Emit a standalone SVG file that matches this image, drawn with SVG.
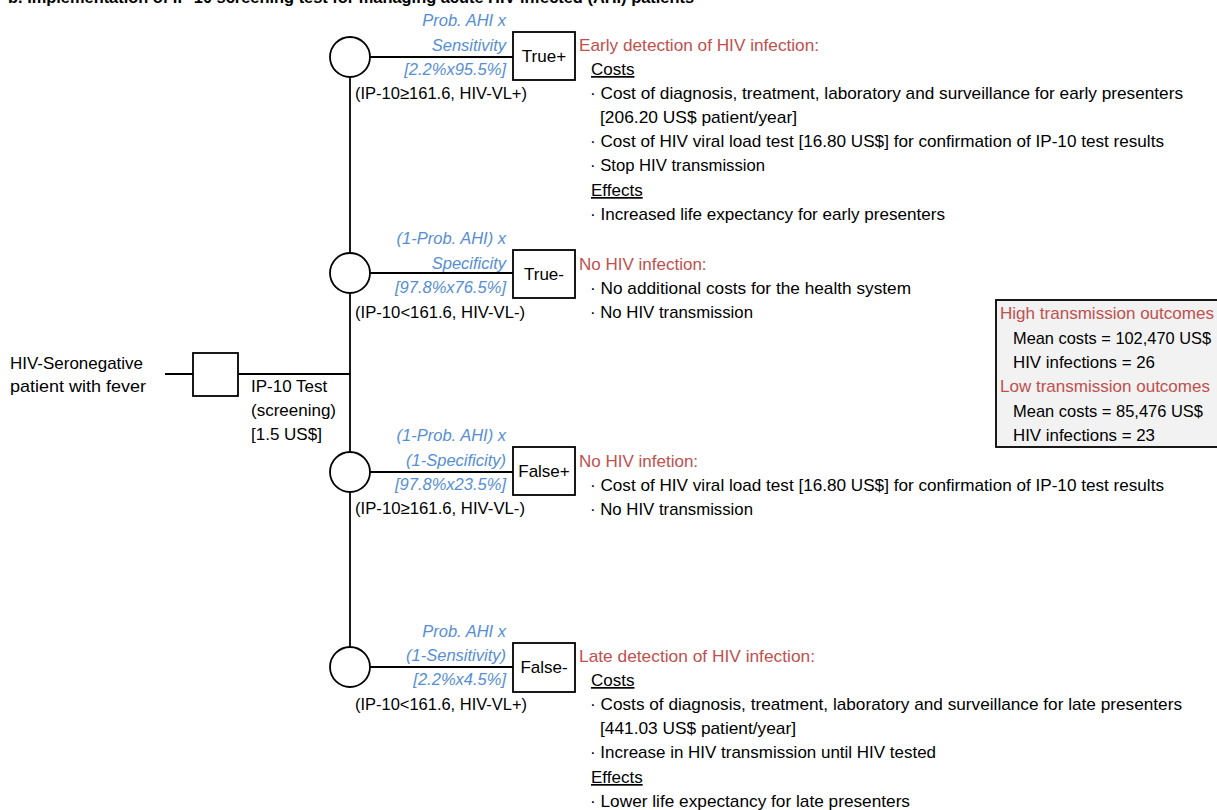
<svg xmlns="http://www.w3.org/2000/svg" width="1217" height="810" viewBox="0 0 1217 810">
<style>
text{font-family:"Liberation Sans",Arial,sans-serif;font-size:17px;fill:#000}
.b{fill:#558ed5;font-style:italic;text-anchor:end;font-size:16.5px}
.r{fill:#c0504d}
.u{text-decoration:underline}
.t{font-weight:bold;font-size:16px}
.ln{stroke:#000;stroke-width:1.8;fill:none}
.nd{stroke:#000;stroke-width:1.8;fill:#fff}
.bx{text-anchor:middle}
</style>
<rect width="1217" height="810" fill="#fff"/>
<text class="t" x="8" y="3" textLength="686" lengthAdjust="spacingAndGlyphs">b. Implementation of IP-10 screening test for managing acute HIV-infected (AHI) patients</text>

<g id="connectors">
<line class="ln" x1="165" y1="374" x2="350" y2="374"/>
<line class="ln" x1="350" y1="77" x2="350" y2="647"/>
<line class="ln" x1="370" y1="57" x2="513" y2="57"/>
<line class="ln" x1="370" y1="273" x2="513" y2="273"/>
<line class="ln" x1="370" y1="472" x2="513" y2="472"/>
<line class="ln" x1="370" y1="667" x2="513" y2="667"/>
</g>

<g id="start">
<text x="10" y="369" textLength="133" lengthAdjust="spacingAndGlyphs">HIV-Seronegative</text>
<text x="10" y="392" textLength="136" lengthAdjust="spacingAndGlyphs">patient with fever</text>
</g>

<g id="decision">
<rect class="nd" x="193" y="353" width="45" height="43"/>
<text x="251" y="392">IP-10 Test</text>
<text x="251" y="416">(screening)</text>
<text x="251" y="440">[1.5 US$]</text>
</g>

<g id="chance1">
<circle class="nd" cx="350" cy="57" r="20"/>
<text class="b" x="506" y="26">Prob. AHI x</text>
<text class="b" x="506" y="51">Sensitivity</text>
<text class="b" x="506" y="75">[2.2%x95.5%]</text>
<text x="355" y="99" textLength="172" lengthAdjust="spacingAndGlyphs">(IP-10≥161.6, HIV-VL+)</text>
</g>
<g id="truepos">
<rect class="nd" x="513" y="32" width="62" height="48"/>
<text class="bx" x="544" y="62">True+</text>
<text class="r" x="579" y="51" textLength="240" lengthAdjust="spacingAndGlyphs">Early detection of HIV infection:</text>
<text class="u" x="591" y="75">Costs</text>
<text x="590" y="99" textLength="593" lengthAdjust="spacingAndGlyphs">· Cost of diagnosis, treatment, laboratory and surveillance for early presenters</text>
<text x="600" y="123" textLength="197" lengthAdjust="spacingAndGlyphs">[206.20 US$ patient/year]</text>
<text x="590" y="147" textLength="574" lengthAdjust="spacingAndGlyphs">· Cost of HIV viral load test [16.80 US$] for confirmation of IP-10 test results</text>
<text x="590" y="171" textLength="175" lengthAdjust="spacingAndGlyphs">· Stop HIV transmission</text>
<text class="u" x="591" y="196">Effects</text>
<text x="590" y="220" textLength="355" lengthAdjust="spacingAndGlyphs">· Increased life expectancy for early presenters</text>
</g>

<g id="chance2">
<circle class="nd" cx="350" cy="273" r="20"/>
<text class="b" x="506" y="244">(1-Prob. AHI) x</text>
<text class="b" x="506" y="269">Specificity</text>
<text class="b" x="506" y="293">[97.8%x76.5%]</text>
<text x="355" y="318" textLength="170" lengthAdjust="spacingAndGlyphs">(IP-10&lt;161.6, HIV-VL-)</text>
</g>
<g id="trueneg">
<rect class="nd" x="513" y="250" width="62" height="48"/>
<text class="bx" x="544" y="280">True-</text>
<text class="r" x="579" y="270">No HIV infection:</text>
<text x="590" y="294" textLength="321" lengthAdjust="spacingAndGlyphs">· No additional costs for the health system</text>
<text x="590" y="318" textLength="163" lengthAdjust="spacingAndGlyphs">· No HIV transmission</text>
</g>

<g id="chance3">
<circle class="nd" cx="350" cy="472" r="20"/>
<text class="b" x="506" y="441">(1-Prob. AHI) x</text>
<text class="b" x="506" y="466">(1-Specificity)</text>
<text class="b" x="506" y="490">[97.8%x23.5%]</text>
<text x="355" y="514" textLength="170" lengthAdjust="spacingAndGlyphs">(IP-10≥161.6, HIV-VL-)</text>
</g>
<g id="falsepos">
<rect class="nd" x="513" y="447" width="62" height="48"/>
<text class="bx" x="544" y="477">False+</text>
<text class="r" x="579" y="467">No HIV infetion:</text>
<text x="590" y="491" textLength="574" lengthAdjust="spacingAndGlyphs">· Cost of HIV viral load test [16.80 US$] for confirmation of IP-10 test results</text>
<text x="590" y="515" textLength="163" lengthAdjust="spacingAndGlyphs">· No HIV transmission</text>
</g>

<g id="chance4">
<circle class="nd" cx="350" cy="667" r="20"/>
<text class="b" x="506" y="637">Prob. AHI x</text>
<text class="b" x="506" y="661">(1-Sensitivity)</text>
<text class="b" x="506" y="685">[2.2%x4.5%]</text>
<text x="355" y="710" textLength="172" lengthAdjust="spacingAndGlyphs">(IP-10&lt;161.6, HIV-VL+)</text>
</g>
<g id="falseneg">
<rect class="nd" x="513" y="643" width="62" height="49"/>
<text class="bx" x="544" y="673">False-</text>
<text class="r" x="579" y="662" textLength="236" lengthAdjust="spacingAndGlyphs">Late detection of HIV infection:</text>
<text class="u" x="591" y="686">Costs</text>
<text x="590" y="710" textLength="592" lengthAdjust="spacingAndGlyphs">· Costs of diagnosis, treatment, laboratory and surveillance for late presenters</text>
<text x="600" y="734" textLength="196" lengthAdjust="spacingAndGlyphs">[441.03 US$ patient/year]</text>
<text x="590" y="758" textLength="346" lengthAdjust="spacingAndGlyphs">· Increase in HIV transmission until HIV tested</text>
<text class="u" x="591" y="783">Effects</text>
<text x="590" y="807" textLength="320" lengthAdjust="spacingAndGlyphs">· Lower life expectancy for late presenters</text>
</g>

<g id="outcomes">
<rect x="996" y="300" width="230" height="147" fill="#f2f2f2" stroke="#000" stroke-width="1.8"/>
<text class="r" x="1000" y="319" textLength="214" lengthAdjust="spacingAndGlyphs">High transmission outcomes</text>
<text x="1013" y="344" textLength="198" lengthAdjust="spacingAndGlyphs">Mean costs = 102,470 US$</text>
<text x="1013" y="368" textLength="142" lengthAdjust="spacingAndGlyphs">HIV infections = 26</text>
<text class="r" x="1000" y="392" textLength="210" lengthAdjust="spacingAndGlyphs">Low transmission outcomes</text>
<text x="1013" y="417" textLength="190" lengthAdjust="spacingAndGlyphs">Mean costs = 85,476 US$</text>
<text x="1013" y="441" textLength="142" lengthAdjust="spacingAndGlyphs">HIV infections = 23</text>
</g>
</svg>
